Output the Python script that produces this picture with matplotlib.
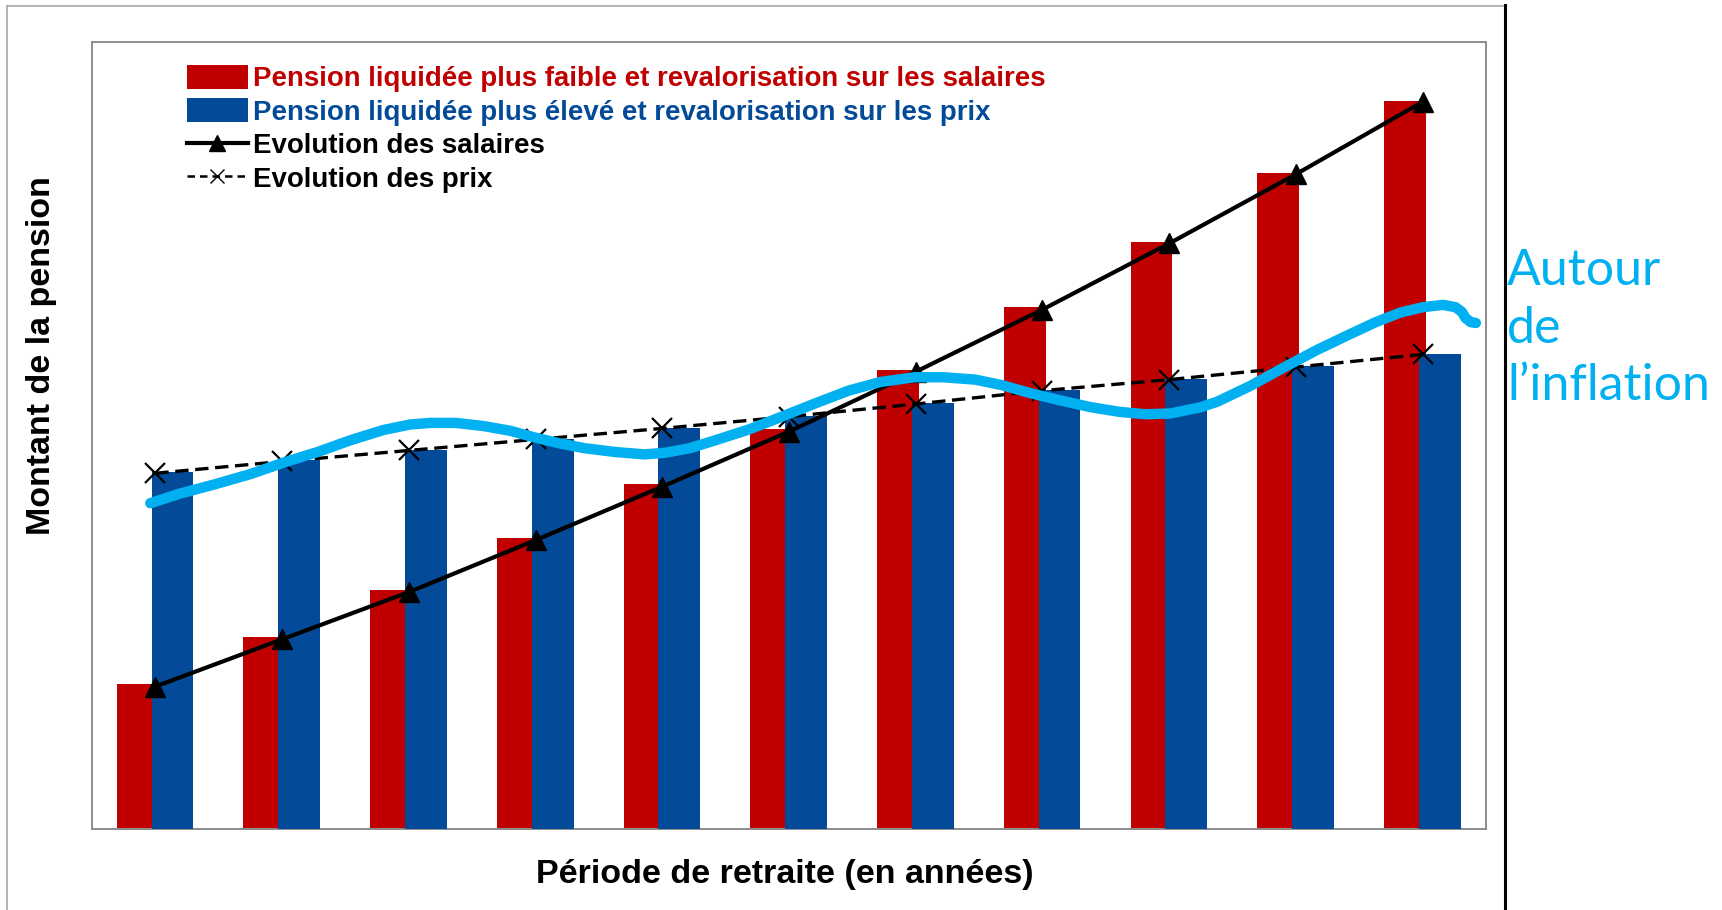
import numpy as np
import matplotlib.pyplot as plt
from matplotlib.patches import Patch
from matplotlib.lines import Line2D

# values, in % of the y-axis height (no scale shown)
periods = list(range(1, 12))
pension_salaires = [18.4, 24.4, 30.4, 37.0, 43.8, 50.8, 58.3, 66.3, 74.6, 83.4, 92.5]
pension_prix = [45.3, 46.9, 48.2, 49.6, 51.0, 52.5, 54.1, 55.8, 57.2, 58.8, 60.4]
evol_salaires = [18.1, 24.1, 30.1, 36.7, 43.5, 50.5, 58.1, 66.0, 74.4, 83.2, 92.4]
evol_prix = [45.2, 46.7, 48.1, 49.5, 50.9, 52.4, 54.0, 55.7, 57.1, 58.7, 60.3]

# hand-drawn "around inflation" stroke
# (x in period index, y in % of axis)
inflation_x = [-0.04, 0.19, 0.47, 0.75, 1.02, 1.28, 1.54, 1.80, 2.01, 2.17, 2.37, 2.59,
               2.80, 2.98, 3.19, 3.38, 3.63, 3.86, 4.02, 4.22, 4.42, 4.69, 4.96, 5.21,
               5.47, 5.72, 5.99, 6.22, 6.47, 6.68, 6.90, 7.13, 7.38, 7.61, 7.81, 8.01,
               8.25, 8.38, 8.64, 8.90, 9.17, 9.43, 9.63, 9.82, 10.00, 10.16, 10.26,
               10.31, 10.34, 10.38, 10.42]
inflation_y = [41.4, 42.6, 43.8, 45.1, 46.6, 47.9, 49.4, 50.7, 51.4, 51.6, 51.6, 51.2,
               50.6, 49.8, 49.0, 48.4, 47.9, 47.6, 47.8, 48.4, 49.4, 50.8, 52.5, 54.1,
               55.7, 56.8, 57.4, 57.4, 57.1, 56.4, 55.4, 54.5, 53.6, 53.0, 52.7, 52.8,
               53.6, 54.3, 56.3, 58.6, 60.9, 62.9, 64.4, 65.6, 66.3, 66.6, 66.3,
               65.7, 64.9, 64.4, 64.3]

labels = ['Pension liquidée plus faible et revalorisation sur les salaires',
          'Pension liquidée plus élevé et revalorisation sur les prix',
          'Evolution des salaires',
          'Evolution des prix']

RED = '#C00000'
BLUE = '#034B98'
CYAN = '#00B0F0'
W, H = 1722, 910


def fx(px):
    return px / W


def fy(py):
    return 1 - py / H


fig = plt.figure(figsize=(W / 100, H / 100), dpi=100)
ax = fig.add_axes([fx(92), fy(829), (1486 - 92) / W, (829 - 42) / H])

x = np.arange(len(periods))
ax.bar(x - 0.14, pension_salaires, width=0.33, color=RED, zorder=2)
ax.bar(x + 0.135, pension_prix, width=0.33, color=BLUE, zorder=3)
ax.plot(x, evol_prix, color='black', lw=2.4, ls=(0, (4, 2)), marker='x', ms=14, mew=1.6, zorder=4)
ax.plot(x, evol_salaires, color='black', lw=3, marker='^', ms=14, zorder=5)
ax.plot(inflation_x, inflation_y, color=CYAN, lw=7.5, solid_capstyle='round',
        solid_joinstyle='round', zorder=6)

ax.set_xlim(-0.5, 10.5)
ax.set_ylim(0, 100)
ax.set_xticks([])
ax.set_yticks([])
for s in ax.spines.values():
    s.set_color('#8C8C8C')
    s.set_linewidth(1.4)

handles = [Patch(facecolor=RED), Patch(facecolor=BLUE),
           Line2D([], [], color='black', lw=3, marker='^', ms=12),
           Line2D([], [], color='black', lw=1.8, ls=(0, (3, 2)), marker='x', ms=10, mew=1)]
leg = ax.legend(handles, labels, loc='upper left', bbox_to_anchor=(0.068, 0.971),
                frameon=False, prop=dict(family='Liberation Sans', weight='bold', size=19.9),
                handlelength=2.2, handleheight=0.95, handletextpad=0.2, labelspacing=0.22,
                borderpad=0, borderaxespad=0)
for t, c in zip(leg.get_texts(), [RED, BLUE, 'black', 'black']):
    t.set_color(c)

fig.text(fx(42), fy(356), 'Montant de la pension', rotation=90, ha='center', va='center',
         size=24.5, weight='bold', family='Liberation Sans')
fig.text(fx(785), fy(875), 'Période de retraite (en années)', ha='center', va='center',
         size=24.5, weight='bold', family='Liberation Sans')

# slide annotation
for txt, base in [('Autour', 285), ('de', 343), ('l’inflation', 400)]:
    fig.text(fx(1507), fy(base), txt, color=CYAN, family='Lato', size=36, va='baseline')

# outer chart frame
fig.add_artist(Line2D([fx(7), fx(7)], [fy(6), 0], color='#A6A6A6', lw=1.2))
fig.add_artist(Line2D([fx(7), fx(1505)], [fy(6), fy(6)], color='#A6A6A6', lw=1.2))
fig.add_artist(Line2D([fx(1505), fx(1505)], [fy(5), 0], color='black', lw=2.2))

fig.savefig('out.png', dpi=100)
